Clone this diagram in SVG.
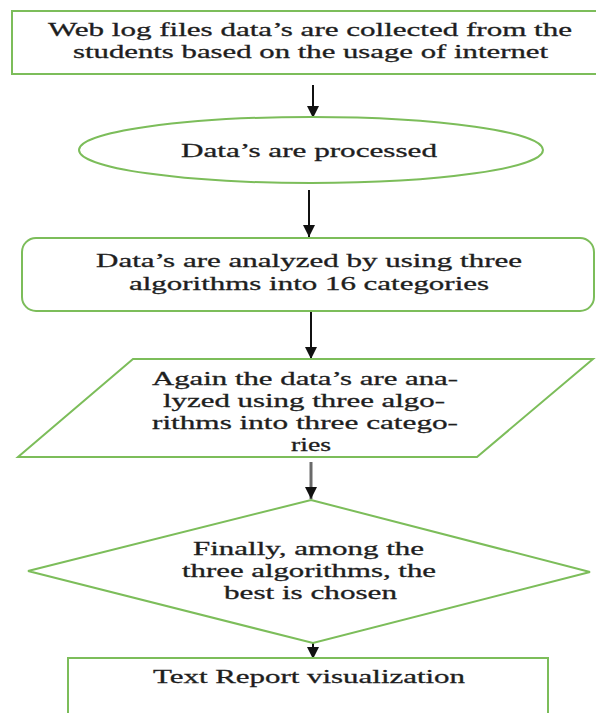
<svg xmlns="http://www.w3.org/2000/svg" width="596" height="713" viewBox="0 0 596 713">
  <style>
    .shape { fill: #ffffff; stroke: #7cbd5a; stroke-width: 2; }
    .lbl { font-family: "Liberation Serif", "Times New Roman", serif; font-size: 19px; fill: #1e1e1e; stroke: #1e1e1e; stroke-width: 0.3; text-anchor: start; }
    .conn { stroke: #111111; stroke-width: 2; fill: none; }
    .conn.gray { stroke: #6a6a6a; stroke-width: 3; }
  </style>
  <defs>
    <marker id="ah" markerUnits="userSpaceOnUse" markerWidth="14" markerHeight="12" refX="12" refY="6" orient="auto">
      <path d="M0,0 L12,6 L0,12 Z" fill="#111111"/>
    </marker>
  </defs>
  <rect width="596" height="713" fill="#ffffff"/>

  <g id="connectors">
    <line class="conn" x1="313" y1="85" x2="313" y2="118" marker-end="url(#ah)"/>
    <line class="conn" x1="309" y1="190" x2="309" y2="237" marker-end="url(#ah)"/>
    <line class="conn" x1="311" y1="312" x2="311" y2="359" marker-end="url(#ah)"/>
    <line class="conn gray" x1="311" y1="462" x2="311" y2="499" marker-end="url(#ah)"/>
    <line class="conn" x1="313" y1="638" x2="313" y2="659" marker-end="url(#ah)"/>
  </g>

  <g id="node-collect">
    <rect class="shape" x="12" y="11" width="590" height="63"/>
    <text class="lbl" x="48" y="36" textLength="524" lengthAdjust="spacingAndGlyphs">Web log files data’s are collected from the</text>
    <text class="lbl" x="73" y="58" textLength="475" lengthAdjust="spacingAndGlyphs">students based on the usage of internet</text>
  </g>

  <g id="node-process">
    <ellipse class="shape" cx="311" cy="150" rx="232" ry="33"/>
    <text class="lbl" x="181" y="157" textLength="256" lengthAdjust="spacingAndGlyphs">Data’s are processed</text>
  </g>

  <g id="node-analyze">
    <rect class="shape" x="22" y="238" width="572" height="73" rx="14" ry="14"/>
    <text class="lbl" x="96" y="267" textLength="426" lengthAdjust="spacingAndGlyphs">Data’s are analyzed by using three</text>
    <text class="lbl" x="129" y="290" textLength="360" lengthAdjust="spacingAndGlyphs">algorithms into 16 categories</text>
  </g>

  <g id="node-again">
    <polygon class="shape" points="133,359 593,359 477,457 18,457"/>
    <text class="lbl" x="152" y="385" textLength="306" lengthAdjust="spacingAndGlyphs">Again the data’s are ana-</text>
    <text class="lbl" x="163" y="407" textLength="282" lengthAdjust="spacingAndGlyphs">lyzed using three algo-</text>
    <text class="lbl" x="152" y="429" textLength="306" lengthAdjust="spacingAndGlyphs">rithms into three catego-</text>
    <text class="lbl" x="291" y="451" textLength="40" lengthAdjust="spacingAndGlyphs">ries</text>
  </g>

  <g id="node-best">
    <polygon class="shape" points="311,500 590,572 313,643 28,571"/>
    <text class="lbl" x="193" y="555" textLength="231" lengthAdjust="spacingAndGlyphs">Finally, among the</text>
    <text class="lbl" x="182" y="577" textLength="254" lengthAdjust="spacingAndGlyphs">three algorithms, the</text>
    <text class="lbl" x="224" y="599" textLength="173" lengthAdjust="spacingAndGlyphs">best is chosen</text>
  </g>

  <g id="node-report">
    <rect class="shape" x="68" y="658" width="480" height="70"/>
    <text class="lbl" x="153" y="683" textLength="312" lengthAdjust="spacingAndGlyphs">Text Report visualization</text>
  </g>
</svg>
